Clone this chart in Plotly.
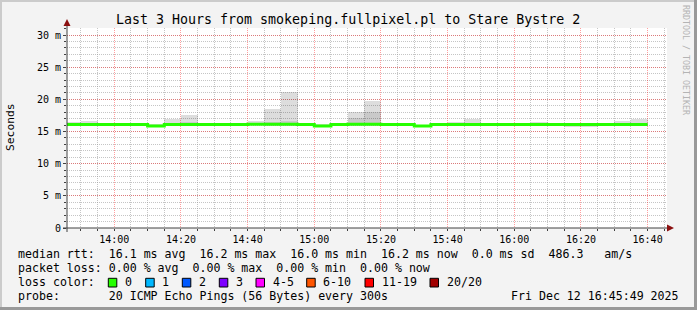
import plotly.graph_objects as go
import pandas as pd

# ---------------- data ----------------
DAY = "2025-12-12 "
interval_start = ["13:45", "13:50", "13:55", "14:00", "14:05", "14:10", "14:15", "14:20",
                  "14:25", "14:30", "14:35", "14:40", "14:45", "14:50", "14:55", "15:00",
                  "15:05", "15:10", "15:15", "15:20", "15:25", "15:30", "15:35", "15:40",
                  "15:45", "15:50", "15:55", "16:00", "16:05", "16:10", "16:15", "16:20",
                  "16:25", "16:30", "16:35"]
last_end = "16:40"
median_ms = [16.1, 16.1, 16.1, 16.1, 16.1, 15.85, 16.1, 16.1, 16.1, 16.1, 16.1, 16.15,
             16.15, 16.15, 16.1, 15.85, 16.1, 16.15, 16.15, 16.1, 16.1, 15.85, 16.1, 16.1,
             16.1, 16.1, 16.1, 16.1, 16.1, 16.1, 16.1, 16.1, 16.1, 16.1, 16.1]
smoke_lo = [15.9, 15.9, 15.9, 16.0, 16.0, 15.7, 15.9, 15.9, 16.0, 16.0, 16.0, 16.0,
            15.9, 15.9, 16.0, 15.7, 16.0, 15.8, 15.8, 16.0, 16.0, 15.7, 16.0, 15.9,
            15.9, 15.9, 16.0, 16.0, 15.9, 15.9, 15.7, 15.7, 15.9, 15.9, 15.9]
smoke_hi = [16.5, 16.7, 16.4, 16.2, 16.2, 16.1, 16.9, 17.6, 16.25, 16.2, 16.4, 16.7,
            18.5, 21.1, 16.2, 16.2, 16.2, 18.0, 19.7, 16.3, 16.2, 16.0, 16.2, 16.5,
            16.9, 16.4, 16.2, 16.25, 16.5, 16.4, 16.2, 16.2, 16.4, 16.7, 16.95]
core_lo = [16.0, 16.0, 16.0, 16.0, 16.0, 15.8, 16.0, 16.0, 16.0, 16.0, 16.0, 16.0,
           16.0, 16.0, 16.0, 15.8, 16.0, 16.0, 16.0, 16.0, 16.0, 15.8, 16.0, 16.0,
           16.0, 16.0, 16.0, 16.0, 16.0, 16.0, 15.9, 15.9, 16.0, 16.0, 16.0]
core_hi = [16.2, 16.3, 16.2, 16.15, 16.15, 15.95, 16.3, 16.45, 16.15, 16.15, 16.2, 16.3,
           16.5, 16.6, 16.15, 15.95, 16.15, 17.05, 18.0, 16.2, 16.15, 15.95, 16.15, 16.25,
           16.4, 16.25, 16.15, 16.15, 16.25, 16.2, 16.15, 16.15, 16.2, 16.3, 16.4]

y_tick_vals = [0, 5, 10, 15, 20, 25, 30]
y_tick_text = ["0", "5 m", "10 m", "15 m", "20 m", "25 m", "30 m"]
x_range = [DAY + "13:45:49", DAY + "16:45:49"]

loss_labels = ["0", "1", "2", "3", "4-5", "6-10", "11-19", "20/20"]
loss_colors = ["#26ff00", "#00b8ff", "#0059ff", "#7e00ff", "#ff00ff", "#ff5500", "#ff0000", "#a10000"]

title_text = "Last 3 Hours from smokeping.fullpixel.pl to Stare Bystre 2"
row_rtt = "median rtt:  16.1 ms avg  16.2 ms max  16.0 ms min  16.2 ms now  0.0 ms sd  486.3   am/s"
row_loss = "packet loss: 0.00 % avg  0.00 % max  0.00 % min  0.00 % now"
row_color = "loss color:"
row_probe = "probe:       20 ICMP Echo Pings (56 Bytes) every 300s"
stamp = "Fri Dec 12 16:45:49 2025"
credit = "RRDTOOL / TOBI OETIKER"

# ---------------- geometry helpers (pixel -> paper) ----------------
L, R, T, B = 67, 667, 28, 228
W, H = 697, 310


def px(x):
    return (x - L) / (R - L)


def py(y):
    return (B - y) / (B - T)


MONO = "DejaVu Sans Mono"

starts = [DAY + t for t in interval_start]
centers = [(pd.Timestamp(s) + pd.Timedelta(seconds=150)).strftime("%Y-%m-%d %H:%M:%S") for s in starts]
STEP_MS = 300000

fig = go.Figure()
fig.add_trace(go.Bar(x=centers, base=smoke_lo, y=[h - l for h, l in zip(smoke_hi, smoke_lo)],
                     width=STEP_MS, marker=dict(color="rgba(0,0,0,0.135)", line=dict(width=0)),
                     hoverinfo="skip"))
fig.add_trace(go.Bar(x=centers, base=core_lo, y=[h - l for h, l in zip(core_hi, core_lo)],
                     width=STEP_MS, marker=dict(color="rgba(0,0,0,0.09)", line=dict(width=0)),
                     hoverinfo="skip"))
fig.add_trace(go.Scatter(x=starts + [DAY + last_end], y=median_ms + [median_ms[-1]],
                         mode="lines", line=dict(color=loss_colors[0], width=3, shape="hv"),
                         hoverinfo="skip"))

grid_major = "rgba(255,0,0,0.38)"
grid_minor = "rgba(150,150,150,0.55)"
axis_col = "#404040"

fig.update_xaxes(type="date", range=x_range, tickformat="%H:%M", tick0=DAY + "14:00",
                 dtick=1200000, showgrid=True, gridcolor=grid_major, griddash="1px,1px",
                 gridwidth=1, ticks="outside", ticklen=2, tickcolor=axis_col,
                 showline=False, zeroline=False,
                 tickfont=dict(family=MONO, size=10, color="#000"),
                 minor=dict(dtick=300000, tick0=DAY + "14:00", showgrid=True,
                            gridcolor=grid_minor, griddash="1px,1px", gridwidth=1,
                            ticks="outside", ticklen=2, tickcolor=axis_col),
                 fixedrange=True)
fig.update_yaxes(range=[0, 31.1], tickvals=y_tick_vals, ticktext=y_tick_text,
                 showgrid=True, gridcolor=grid_major, griddash="1px,1px", gridwidth=1,
                 ticks="outside", ticklen=3, tickcolor=axis_col, showline=False,
                 zeroline=False, tickfont=dict(family=MONO, size=10, color="#000"),
                 minor=dict(dtick=1, showgrid=True, gridcolor=grid_minor,
                            griddash="1px,1px", gridwidth=1, ticks="outside",
                            ticklen=2, tickcolor=axis_col),
                 fixedrange=True)

shapes = []
# frame shading
shapes.append(dict(type="rect", xref="paper", yref="paper", x0=px(0), x1=px(W), y0=py(0), y1=py(2),
                   fillcolor="#cbcbcb", line=dict(width=0), layer="below"))
shapes.append(dict(type="rect", xref="paper", yref="paper", x0=px(0), x1=px(2), y0=py(0), y1=py(H),
                   fillcolor="#cbcbcb", line=dict(width=0), layer="below"))
shapes.append(dict(type="rect", xref="paper", yref="paper", x0=px(W - 3), x1=px(W), y0=py(0), y1=py(H),
                   fillcolor="#999999", line=dict(width=0), layer="below"))
shapes.append(dict(type="rect", xref="paper", yref="paper", x0=px(0), x1=px(W), y0=py(H - 3), y1=py(H),
                   fillcolor="#999999", line=dict(width=0), layer="below"))
# axes
shapes.append(dict(type="line", xref="paper", yref="paper", x0=px(L), x1=px(L), y0=py(232), y1=py(22),
                   line=dict(color=axis_col, width=1)))
shapes.append(dict(type="line", xref="paper", yref="paper", x0=px(63), x1=px(671), y0=py(B), y1=py(B),
                   line=dict(color=axis_col, width=1)))
# arrows
shapes.append(dict(type="path", xref="paper", yref="paper",
                   path=f"M {px(L)} {py(19)} L {px(L-3.5)} {py(26)} L {px(L+3.5)} {py(26)} Z",
                   fillcolor="#8b1010", line=dict(width=0)))
shapes.append(dict(type="path", xref="paper", yref="paper",
                   path=f"M {px(674)} {py(B)} L {px(667)} {py(B-3.5)} L {px(667)} {py(B+3.5)} Z",
                   fillcolor="#8b1010", line=dict(width=0)))

ann = []
ann.append(dict(text=title_text, x=px(348), y=py(19), xref="paper", yref="paper",
                xanchor="center", yanchor="middle", showarrow=False,
                font=dict(family=MONO, size=13.3, color="#000")))
ann.append(dict(text="Seconds", x=px(10), y=py(127), xref="paper", yref="paper",
                xanchor="center", yanchor="middle", showarrow=False, textangle=-90,
                font=dict(family=MONO, size=11.3, color="#000")))
ann.append(dict(text=credit, x=px(686), y=py(60), xref="paper", yref="paper",
                xanchor="center", yanchor="middle", showarrow=False, textangle=90,
                font=dict(family=MONO, size=8.3, color="#b4b4b4")))

row_font = dict(family=MONO, size=11.6, color="#000")
for txt, yy in [(row_rtt, 254.3), (row_loss, 268.3), (row_color, 282.3), (row_probe, 296)]:
    ann.append(dict(text=txt.replace(" ", "&nbsp;"), x=px(16), y=py(yy), xref="paper", yref="paper",
                    xanchor="left", yanchor="middle", showarrow=False, font=row_font))
ann.append(dict(text=stamp, x=px(680.5), y=py(296), xref="paper", yref="paper",
                xanchor="right", yanchor="middle", showarrow=False, font=row_font))

square_x = [108.3, 145.7, 182.3, 219.3, 256, 306.7, 365, 430]
for sx, lab, col in zip(square_x, loss_labels, loss_colors):
    shapes.append(dict(type="rect", xref="paper", yref="paper", x0=px(sx), x1=px(sx + 8.5),
                       y0=py(287), y1=py(278.3), fillcolor=col, line=dict(color="#000", width=1)))
    ann.append(dict(text=lab, x=px(sx + 14.7), y=py(282.3), xref="paper", yref="paper",
                    xanchor="left", yanchor="middle", showarrow=False, font=row_font))

fig.update_layout(width=W, height=H, margin=dict(l=L, r=W - R, t=T, b=H - B, pad=0),
                  paper_bgcolor="#f3f3f3", plot_bgcolor="#ffffff", showlegend=False,
                  barmode="overlay", bargap=0, shapes=shapes, annotations=ann)

fig.write_html("out.html")
